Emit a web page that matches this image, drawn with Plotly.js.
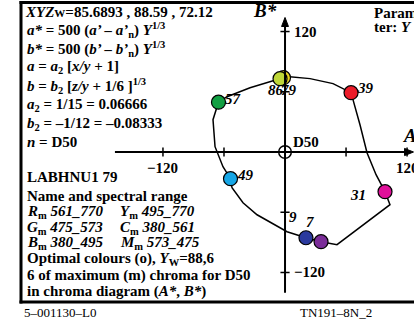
<!DOCTYPE html>
<html>
<head>
<meta charset="utf-8">
<script src="https://cdn.plot.ly/plotly-3.0.1.min.js"></script>
<style>html,body{margin:0;padding:0;background:#fff;}#chart{width:414px;height:324px;}</style>
</head>
<body>
<div id="chart"></div>
<script>
// Closed boundary curve (A*, B*)
const curveA = [-65.4, -57.0, -34.4, -4.9, 2.0, 24.6, 47.2, 64.9, 66.9, 73.7, 80.6, 89.5, 98.3, 103.2, 51.1, 35.4, 20.6, 2.0, -27.5, -41.3, -52.1, -53.6, -61.0, -68.8, -70.8, -65.4];
const curveB = [49.6, 55.1, 64.0, 73.0, 75.1, 73.1, 68.1, 59.1, 52.1, 27.2, -0.7, -22.6, -39.5, -52.5, -92.3, -89.3, -85.4, -79.4, -62.5, -50.5, -35.6, -26.6, -14.6, 5.3, 32.2, 49.6];

// Colour points (A*, B*)
const pointA = [-1.5, -4.9, -65.4, 64.9, -53.6, 98.3, 20.6, 35.4];
const pointB = [74.0, 73.0, 49.6, 59.1, -26.6, -39.5, -85.4, -89.3];
const pointColors = ['#e6d21e', '#bed638', '#12a043', '#ec1c2a', '#16a6e6', '#e0109a', '#2b3a9e', '#7a2c98'];
const pointLabels = ['79', '86', '57', '39', '49', '31', '7', '9'];

// Axis ticks
const tickVals = [-120, -60, 60, 120];
const tickLabelVals = [-120, 120];

const F = '"Liberation Serif","Times New Roman",Times,serif';

const traces = [
  {x: curveA, y: curveB, mode: 'lines', type: 'scatter',
   line: {color: '#000', width: 1.5}, hoverinfo: 'skip'},
  {x: pointA, y: pointB, mode: 'markers', type: 'scatter',
   marker: {size: 14, color: pointColors, line: {color: '#000', width: 1.2}}, hoverinfo: 'skip'}
];

const shapes = [];
const annotations = [];
function P(px, py) { return [px / 414, 1 - py / 324]; }

// frame
shapes.push({type: 'line', xref: 'paper', yref: 'paper', x0: 19.5/414, x1: 1, y0: 1 - 2.5/324, y1: 1 - 2.5/324, line: {color: '#000', width: 3}});
shapes.push({type: 'line', xref: 'paper', yref: 'paper', x0: 21/414, x1: 21/414, y0: 1 - 1/324, y1: 1 - 303.5/324, line: {color: '#000', width: 3}});
shapes.push({type: 'line', xref: 'paper', yref: 'paper', x0: 19.5/414, x1: 1, y0: 1 - 302/324, y1: 1 - 302/324, line: {color: '#000', width: 3}});

// axes
shapes.push({type: 'line', x0: -167.2, x1: 119, y0: 0, y1: 0, line: {color: '#000', width: 2}});
shapes.push({type: 'path', path: 'M 126.3 0 L 117.5 3.6 L 117.5 -3.6 Z', fillcolor: '#000', line: {color: '#000', width: 1}});
shapes.push({type: 'line', x0: 0, x1: 0, y0: -140.1, y1: 127, line: {color: '#000', width: 2}});
shapes.push({type: 'path', path: 'M 0 134 L -3.4 125 L 3.4 125 Z', fillcolor: '#000', line: {color: '#000', width: 1}});
tickVals.forEach(v => {
  shapes.push({type: 'line', x0: v, x1: v, y0: -4.5, y1: 4.5, line: {color: '#000', width: 1.5}});
  shapes.push({type: 'line', x0: -4.5, x1: 4.5, y0: v, y1: v, line: {color: '#000', width: 1.5}});
});
shapes.push({type: 'circle', x0: -6.2, x1: 6.2, y0: -6.3, y1: 6.3, line: {color: '#000', width: 1.5}});

// tick labels
tickLabelVals.forEach(v => {
  const t = v < 0 ? '\u2212' + Math.abs(v) : String(v);
  annotations.push({x: v, y: 0, text: '<b>' + t + '</b>', showarrow: false, yshift: -16, xanchor: 'center', yanchor: 'middle', font: {family: F, size: 15, color: '#000'}});
  annotations.push({x: 0, y: v, text: '<b>' + t + '</b>', showarrow: false, xshift: 7, xanchor: 'left', yanchor: 'middle', font: {family: F, size: 15, color: '#000'}});
});
annotations.push({x: 0, y: 0, text: '<b>D50</b>', showarrow: false, xshift: 6, yshift: 10, xanchor: 'left', yanchor: 'middle', font: {family: F, size: 15, color: '#000'}});
annotations.push({x: 0, y: 133, text: '<b><i>B*</i></b>', showarrow: false, xshift: -6, yshift: 8, xanchor: 'right', yanchor: 'middle', font: {family: F, size: 19, color: '#000'}});
annotations.push({x: 114, y: 0, text: '<b><i>A*</i></b>', showarrow: false, yshift: 17, xanchor: 'left', yanchor: 'middle', font: {family: F, size: 19, color: '#000'}});

// point labels (pixel offsets)
const offs = [[6, -12], [-4, -11], [14.5, 3.5], [14, 5], [14.5, 4], [-27, -3], [4, 16], [-28, 25]];
pointLabels.forEach((lab, i) => {
  annotations.push({x: pointA[i], y: pointB[i], text: '<b><i>' + lab + '</i></b>', showarrow: false,
    xshift: offs[i][0], yshift: offs[i][1], xanchor: 'center', yanchor: 'middle', font: {family: F, size: 15, color: '#000'}});
});

// left text panel
const lines = [
  [23, 12, '<b><i>XYZ</i><span style="font-size:11px">W</span>=85.6893 , 88.59 , 72.12</b>'],
  [25, 30, '<b><i>a*</i> = 500 (<i>a\u2019 \u2013 a\u2019</i><sub>n</sub>) <i>Y</i><sup>1/3</sup></b>'],
  [25, 49, '<b><i>b*</i> = 500 (<i>b\u2019 \u2013 b\u2019</i><sub>n</sub>) <i>Y</i><sup>1/3</sup></b>'],
  [25, 67, '<b><i>a</i> = <i>a</i><sub>2</sub> [<i>x/y</i> + 1]</b>'],
  [25, 86, '<b><i>b</i> = <i>b</i><sub>2</sub> [<i>z/y</i> + 1/6 ]<sup>1/3</sup></b>'],
  [25, 105, '<b><i>a</i><sub>2</sub> = 1/15 = 0.06666</b>'],
  [25, 124, '<b><i>b</i><sub>2</sub> = \u20131/12 = \u20130.08333</b>'],
  [25, 142, '<b><i>n</i> = D50</b>'],
  [25, 177, '<b>LABHNU1 79</b>'],
  [25, 196, '<b>Name and spectral range</b>'],
  [25, 212, '<b><i>R</i><sub>m</sub> <i>561_770</i></b>'],
  [118, 212, '<b><i>Y</i><sub>m</sub> <i>495_770</i></b>'],
  [25, 228, '<b><i>G</i><sub>m</sub> <i>475_573</i></b>'],
  [118, 228, '<b><i>C</i><sub>m</sub> <i>380_561</i></b>'],
  [25, 243, '<b><i>B</i><sub>m</sub> <i>380_495</i></b>'],
  [118, 243, '<b><i>M</i><sub>m</sub> <i>573_475</i></b>'],
  [25, 259, '<b>Optimal colours (o), <i>Y</i><sub>W</sub>=88,6</b>'],
  [25, 275, '<b>6 of maximum (m) chroma for D50</b>'],
  [25, 291, '<b>in chroma diagram (<i>A*</i>, <i>B*</i>)</b>'],
  [372, 13, '<b>Param</b>'],
  [372, 27, '<b>ter: <i>Y</i></b>']
];
lines.forEach(l => {
  const p = P(l[0], l[1]);
  annotations.push({xref: 'paper', yref: 'paper', x: p[0], y: p[1], text: l[2], showarrow: false,
    xanchor: 'left', yanchor: 'middle', align: 'left', font: {family: F, size: 15, color: '#000'}});
});
// footer
[[22, 312, '5\u2013001130\u2013L0'], [298, 312, 'TN191\u20138N_2']].forEach(l => {
  const p = P(l[0], l[1]);
  annotations.push({xref: 'paper', yref: 'paper', x: p[0], y: p[1], text: l[2], showarrow: false,
    xanchor: 'left', yanchor: 'middle', font: {family: F, size: 13, color: '#000'}});
});

const layout = {
  width: 414, height: 324,
  margin: {l: 0, r: 0, t: 0, b: 0, pad: 0},
  paper_bgcolor: '#fff', plot_bgcolor: '#fff',
  showlegend: false,
  xaxis: {range: [-280.2, 126.8], visible: false, fixedrange: true},
  yaxis: {range: [-171.3, 151.4], visible: false, fixedrange: true},
  shapes: shapes,
  annotations: annotations
};

Plotly.newPlot('chart', traces, layout, {displayModeBar: false, staticPlot: true});
</script>
</body>
</html>
